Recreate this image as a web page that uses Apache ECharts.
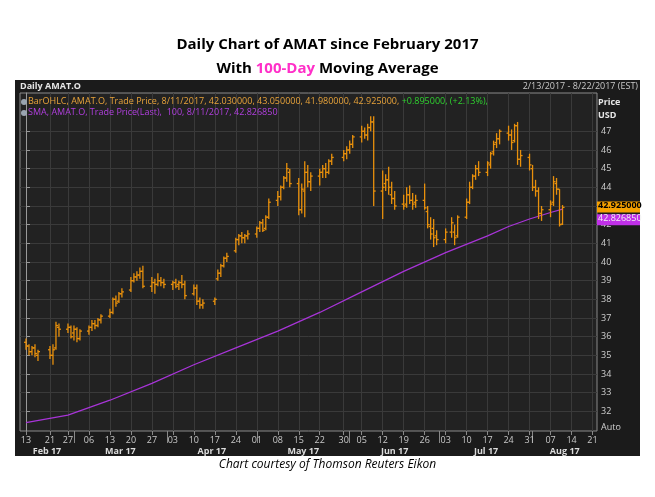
<!DOCTYPE html>
<html><head><meta charset="utf-8">
<script src="https://cdn.jsdelivr.net/npm/echarts@6/dist/echarts.min.js"></script>
<style>html,body{margin:0;padding:0;background:#fff}#c{width:655px;height:497px}</style>
</head><body><div id="c"></div>
<script>
const tradingDays = {
  '2017-02': [13,14,15,16,17,21,22,23,24,27,28],
  '2017-03': [1,2,3,6,7,8,9,10,13,14,15,16,17,20,21,22,23,24,27,28,29,30,31],
  '2017-04': [3,4,5,6,7,10,11,12,13,17,18,19,20,21,24,25,26,27,28],
  '2017-05': [1,2,3,4,5,8,9,10,11,12,15,16,17,18,19,22,23,24,25,26,30,31],
  '2017-06': [1,2,5,6,7,8,9,12,13,14,15,16,19,20,21,22,23,26,27,28,29,30],
  '2017-07': [3,5,6,7,10,11,12,13,14,17,18,19,20,21,24,25,26,27,28,31],
  '2017-08': [1,2,3,4,7,8,9,10,11]
};
// [open, high, low, close]
const ohlc = [
[35.7,35.9,35.3,35.5],[35.5,35.6,35.0,35.2],[35.2,35.5,35.0,35.4],[35.4,35.6,34.9,35.1],[35.0,35.3,34.7,35.2],
[35.3,35.5,34.8,35.0],[35.0,35.6,34.5,35.3],[35.4,36.8,35.3,36.6],[36.5,36.7,36.0,36.4],[36.4,36.7,36.2,36.5],[36.5,36.6,35.9,36.0],
[36.2,36.6,35.8,36.4],[36.4,36.5,35.7,35.9],[35.9,36.4,35.8,36.3],[36.3,36.6,36.1,36.5],[36.5,36.9,36.3,36.7],[36.7,36.9,36.4,36.6],[36.6,37.0,36.5,36.9],[36.9,37.2,36.7,37.1],
[37.1,37.5,37.0,37.3],[37.3,38.1,37.2,38.0],[38.0,38.2,37.6,37.8],[37.9,38.4,37.8,38.3],[38.3,38.6,38.1,38.4],
[38.5,39.2,38.4,39.0],[39.0,39.4,38.9,39.2],[39.2,39.5,39.0,39.3],[39.3,39.7,39.1,39.5],[39.5,39.8,38.6,38.7],
[38.7,39.2,38.4,38.9],[38.9,39.1,38.3,38.8],[38.8,39.4,38.7,39.0],[39.0,39.2,38.7,38.9],[38.9,39.1,38.6,38.8],
[38.8,39.0,38.5,38.9],[38.9,39.1,38.6,38.7],[38.8,39.0,38.5,38.9],[38.9,39.3,38.6,38.8],[38.8,39.0,38.0,38.2],
[38.3,38.8,38.2,38.6],[38.6,38.8,37.7,37.9],[37.9,38.1,37.5,37.7],[37.7,38.0,37.5,37.8],
[37.9,38.1,37.7,38.0],[39.1,39.6,39.0,39.4],[39.4,39.9,39.2,39.8],[39.8,40.3,39.7,40.2],[40.2,40.5,40.0,40.3],
[40.6,41.3,40.5,41.2],[41.2,41.5,40.9,41.4],[41.4,41.6,41.0,41.3],[41.3,41.5,41.0,41.4],[41.4,41.7,41.2,41.5],
[41.5,41.9,41.3,41.8],[41.8,42.2,41.6,42.1],[42.1,42.3,41.6,41.7],[41.8,42.5,41.7,42.4],[42.4,43.4,42.3,43.2],
[43.3,43.8,43.0,43.5],[43.5,44.1,43.3,44.0],[44.0,44.6,43.9,44.5],[44.5,45.3,44.3,45.0],[44.8,45.0,44.0,44.2],
[44.2,44.5,42.5,42.8],[42.8,44.2,42.6,43.9],[43.8,45.4,42.4,44.8],[44.8,45.2,44.0,44.3],[44.3,44.8,43.8,44.6],
[44.6,45.0,44.1,44.8],[44.8,45.2,44.5,45.0],[45.0,45.3,44.5,44.8],[44.8,45.5,44.7,45.4],[45.4,45.8,45.2,45.6],
[45.6,46.0,45.4,45.8],[45.8,46.2,45.5,46.0],
[46.0,46.5,45.8,46.3],[46.3,46.8,46.1,46.7],
[46.7,47.3,46.4,47.0],[47.0,47.2,46.6,46.8],[46.8,47.4,46.5,47.2],[47.2,47.8,47.0,47.5],[47.5,47.8,43.0,43.8],
[43.8,44.9,42.3,44.0],[44.2,44.7,43.8,44.4],[44.4,45.1,43.6,44.0],[43.6,44.3,43.1,43.4],[43.4,43.8,42.8,43.0],
[43.1,43.6,42.8,43.0],[43.1,44.0,42.9,43.6],[43.6,44.1,43.1,43.3],[43.3,43.7,42.8,43.1],[43.2,43.6,42.9,43.3],
[43.3,44.2,42.8,42.9],[42.7,43.0,41.8,42.0],[41.9,42.4,41.2,41.5],[41.8,42.3,40.8,41.3],[41.4,41.7,40.9,41.2],
[41.2,41.8,41.0,41.6],[41.6,42.4,41.3,42.1],[41.6,42.0,40.9,41.3],[41.4,42.5,41.3,42.4],
[42.4,43.4,42.3,43.2],[43.2,44.3,43.1,44.0],[44.0,44.7,43.9,44.6],[44.6,45.2,44.4,45.0],[45.0,45.4,44.6,44.8],
[44.8,45.4,44.6,45.3],[45.2,45.9,45.0,45.8],[45.9,46.5,45.7,46.3],[46.4,46.9,46.1,46.6],[46.6,47.1,46.3,47.0],
[46.9,47.3,46.5,46.8],[46.8,47.1,46.0,46.4],[46.5,47.4,46.4,47.3],[47.3,47.5,45.2,45.5],[45.5,46.0,45.1,45.7],
[45.6,45.8,44.9,45.2],[45.0,45.2,43.8,44.0],[44.0,44.4,43.5,43.8],[43.8,44.0,42.3,42.6],[42.6,43.0,42.2,42.8],
[42.8,43.3,42.4,43.1],[43.2,44.6,43.0,44.3],[44.2,44.5,43.6,43.9],[43.9,43.9,41.9,42.0],[42.03,43.05,41.98,42.925]
];
const smaDates = ['2017-02-13','2017-02-27','2017-03-13','2017-03-27','2017-04-10','2017-04-24','2017-05-08','2017-05-22','2017-06-05','2017-06-19','2017-07-03','2017-07-17','2017-07-24','2017-07-31','2017-08-07','2017-08-11'];
const smaValues = [31.4,31.8,32.6,33.5,34.5,35.4,36.3,37.3,38.4,39.5,40.5,41.4,41.9,42.3,42.65,42.83];
const weekTickDates = ['2017-02-13','2017-02-21','2017-02-27','2017-03-06','2017-03-13','2017-03-20','2017-03-27','2017-04-03','2017-04-10','2017-04-17','2017-04-24','2017-05-01','2017-05-08','2017-05-15','2017-05-22','2017-05-30','2017-06-05','2017-06-12','2017-06-19','2017-06-26','2017-07-03','2017-07-10','2017-07-17','2017-07-24','2017-07-31','2017-08-07','2017-08-14','2017-08-21'];
const monthLabels = ['Feb 17','Mar 17','Apr 17','May 17','Jun 17','Jul 17','Aug 17'];
const monthStarts = ['2017-02-01','2017-03-01','2017-04-01','2017-05-01','2017-06-01','2017-07-01','2017-08-01','2017-09-01'];
const priceTicks = [32,33,34,35,36,37,38,39,40,41,42,43,44,45,46,47];
const lastClose = 42.925000, lastSma = 42.826850;

const DAY = 86400000, T0 = Date.UTC(2017,1,13);
const dOf = s => (Date.UTC(+s.slice(0,4), +s.slice(5,7)-1, +s.slice(8,10)) - T0)/DAY;
const barData = [];
let k = 0;
for (const m in tradingDays) for (const d of tradingDays[m]) {
  const o = ohlc[k++]; barData.push([dOf(m+'-'+String(d).padStart(2,'0')), o[0], o[1], o[2], o[3]]);
}
const smaData = smaDates.map((s,i)=>[dOf(s), smaValues[i]]);
const weekTicks = weekTickDates.map(dOf);
const mStarts = monthStarts.map(dOf);
const XMIN = -2, XMAX = 190.5;
const mMid = monthLabels.map((_,i)=>(Math.max(mStarts[i],XMIN)+Math.min(mStarts[i+1],XMAX))/2);
const labelMap = {}; weekTicks.forEach((v,i)=>labelMap[v]=weekTickDates[i].slice(8,10));
const mMap = {}; mMid.forEach((v,i)=>mMap[v]=monthLabels[i]);

const chart = echarts.init(document.getElementById('c'));
const ORANGE = '#e8900c', GRID='#3a3a3a';
chart.setOption({
  backgroundColor:'#ffffff',
  animation:false,
  graphic:[
    {type:'text',left:'center',top:37,style:{text:'Daily Chart of AMAT since February 2017',fill:'#000',font:'bold 15px Open Sans'}},
    {type:'text',left:'center',top:61,style:{rich:{a:{fill:'#000',font:'bold 15px Open Sans'},b:{fill:'#ff2fc8',font:'bold 15px Open Sans'}},text:'{a|With }{b|100-Day}{a| Moving Average}'}},
    {type:'rect',z:-10,shape:{x:15,y:80,width:625,height:376},style:{fill:'#1b1b1b'}},
    {type:'text',left:20,top:82,style:{text:'Daily AMAT.O',fill:'#e6e6e6',font:'bold 9px Open Sans'}},
    {type:'text',right:17,top:82,style:{text:'2/13/2017 - 8/22/2017 (EST)',fill:'#c8c8c8',font:'9px Open Sans'}},
    {type:'text',left:598,top:96,style:{text:'Price\nUSD',fill:'#e6e6e6',font:'bold 9px Open Sans',lineHeight:13}},
    {type:'text',left:28,top:97,z:50,style:{rich:{o:{fill:'#e8a33a',font:'9px Open Sans'},g:{fill:'#2fd12f',font:'9px Open Sans'}},
      text:'{o|BarOHLC, AMAT.O, Trade Price, 8/11/2017, 42.030000, 43.050000, 41.980000, 42.925000, }{g|+0.895000, (+2.13%),}'}},
    {type:'text',left:28,top:108,z:50,style:{text:'SMA, AMAT.O, Trade Price(Last),  100, 8/11/2017, 42.826850',fill:'#b23fe0',font:'9px Open Sans'}},
    {type:'circle',z:50,shape:{cx:24,cy:102,r:3},style:{fill:'#9aa4b0'}},
    {type:'circle',z:50,shape:{cx:24,cy:113,r:3},style:{fill:'#9aa4b0'}},
    {type:'text',left:601,top:423,style:{text:'Auto',fill:'#d0d0d0',font:'9px Open Sans',textDecoration:'underline'}},
    {type:'text',left:'center',top:459,style:{text:'Chart courtesy of Thomson Reuters Eikon',fill:'#000',font:'italic 12px Open Sans'}}
  ],
  grid:{left:20,right:58,top:93,bottom:66,show:true,backgroundColor:'#222222',borderColor:'#8a8a8a',borderWidth:1},
  xAxis:[
    {type:'value',min:XMIN,max:XMAX,axisLine:{show:false},
     axisTick:{show:true,customValues:weekTicks,length:4,lineStyle:{color:'#888'}},
     axisLabel:{customValues:weekTicks,formatter:v=>labelMap[v]||'',color:'#c8c8c8',fontSize:9,fontFamily:'Open Sans',margin:5},
     splitLine:{show:true,lineStyle:{color:GRID,width:1}}},
    {type:'value',min:XMIN,max:XMAX,position:'bottom',offset:12,axisLine:{show:false},
     axisTick:{show:true,customValues:mStarts.slice(1,7),length:-12,inside:false,lineStyle:{color:'#888'}},
     axisLabel:{customValues:mMid,formatter:v=>mMap[v]||'',color:'#dcdcdc',fontSize:9,fontWeight:'bold',fontFamily:'Open Sans',margin:4},
     splitLine:{show:false}}
  ],
  yAxis:{type:'value',position:'right',min:30.95,max:49.05,axisLine:{show:true,lineStyle:{color:'#999'}},
    axisTick:{show:true,customValues:priceTicks,length:4,lineStyle:{color:'#999'}},
    axisLabel:{customValues:priceTicks,color:'#d0d0d0',fontSize:9,fontFamily:'Open Sans',margin:4},
    splitLine:{show:true,lineStyle:{color:GRID}}},
  series:[
    {type:'line',data:smaData,smooth:false,symbol:'none',lineStyle:{color:'#a834d8',width:1.2},z:3},
    {type:'custom',data:barData,encode:{x:0,y:[1,2,3,4]},z:4,
     renderItem:(params,api)=>{
       const x=api.value(0);
       const po=api.coord([x,api.value(1)]),ph=api.coord([x,api.value(2)]),pl=api.coord([x,api.value(3)]),pc=api.coord([x,api.value(4)]);
       const st={stroke:ORANGE,lineWidth:1.3};
       return {type:'group',children:[
         {type:'line',shape:{x1:ph[0],y1:ph[1],x2:pl[0],y2:pl[1]},style:st},
         {type:'line',shape:{x1:po[0]-2,y1:po[1],x2:po[0],y2:po[1]},style:st},
         {type:'line',shape:{x1:pc[0],y1:pc[1],x2:pc[0]+2,y2:pc[1]},style:st}]};
     }}
  ]
});
const yc = chart.convertToPixel({yAxisIndex:0},lastClose);
const ys = chart.convertToPixel({yAxisIndex:0},lastSma);
chart.setOption({graphic:[
  {type:'rect',z:60,shape:{x:597,y:yc-6,width:43,height:11},style:{fill:'#f5a000'}},
  {type:'text',z:61,left:598,top:yc-6,style:{text:lastClose.toFixed(6),fill:'#000',font:'bold 9px Open Sans'}},
  {type:'rect',z:60,shape:{x:597,y:ys+5,width:43,height:11},style:{fill:'#c030e8'}},
  {type:'text',z:61,left:598,top:ys+5,style:{text:lastSma.toFixed(6),fill:'#f0f0f0',font:'9px Open Sans'}}
].map((e,i)=>Object.assign({id:'tag'+i},e))});
</script></body></html>
